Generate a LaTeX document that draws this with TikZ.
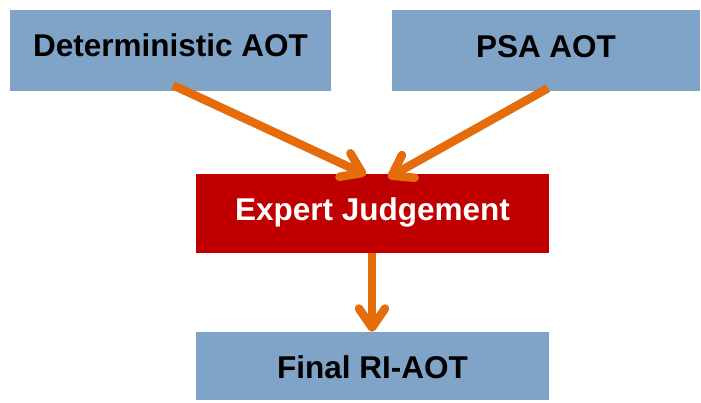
\documentclass[tikz,border=0pt]{standalone}
\usepackage{fontspec}
\setmainfont{Liberation Sans}
\usetikzlibrary{arrows.meta,calc}
\definecolor{boxblue}{RGB}{127,164,199}
\definecolor{boxred}{RGB}{192,0,0}
\definecolor{arrorange}{RGB}{228,108,10}
\tikzset{
  bluebox/.style={fill=boxblue, draw=none, inner sep=0pt, font=\fontsize{31.5}{36}\selectfont\bfseries, text=black, text height=22.6pt},
  redbox/.style={fill=boxred, draw=none, inner sep=0pt, font=\fontsize{31.5}{36}\selectfont\bfseries, text=white, text height=22.6pt},
  arr/.style={draw=arrorange, line width=8.5pt, line cap=butt,
    -{Straight Barb[length=19pt,width=26pt,round]}}
}
\begin{document}
\begin{tikzpicture}[x=1pt,y=-1pt]
\useasboundingbox (0,0) rectangle (701,403);
\node[bluebox, minimum width=321pt, minimum height=81pt, text depth=10pt] (b1) at (170.5,50.5) {Deterministic AOT};
\node[bluebox, minimum width=308pt, minimum height=81pt, text depth=9pt] (b2) at (546,50.5) {PSA AOT};
\node[redbox, minimum width=353pt, minimum height=79pt, text depth=8pt] (ej) at (372.5,213.5) {Expert Judgement};
\node[bluebox, minimum width=353pt, minimum height=68pt, text height=25.6pt, text depth=0pt] (fin) at (372.5,366) {Final RI-AOT};
\draw[arr] ($(b1.south)+(2.5,-6)$) -- ($(ej.north)+(-6.5,1)$);
\draw[arr] ($(b2.south)+(2,-3)$) -- ($(ej.north)+(15.5,4)$);
\draw[arr] (ej.south -| 372,0) -- (fin.north -| 372,0);
\end{tikzpicture}
\end{document}
